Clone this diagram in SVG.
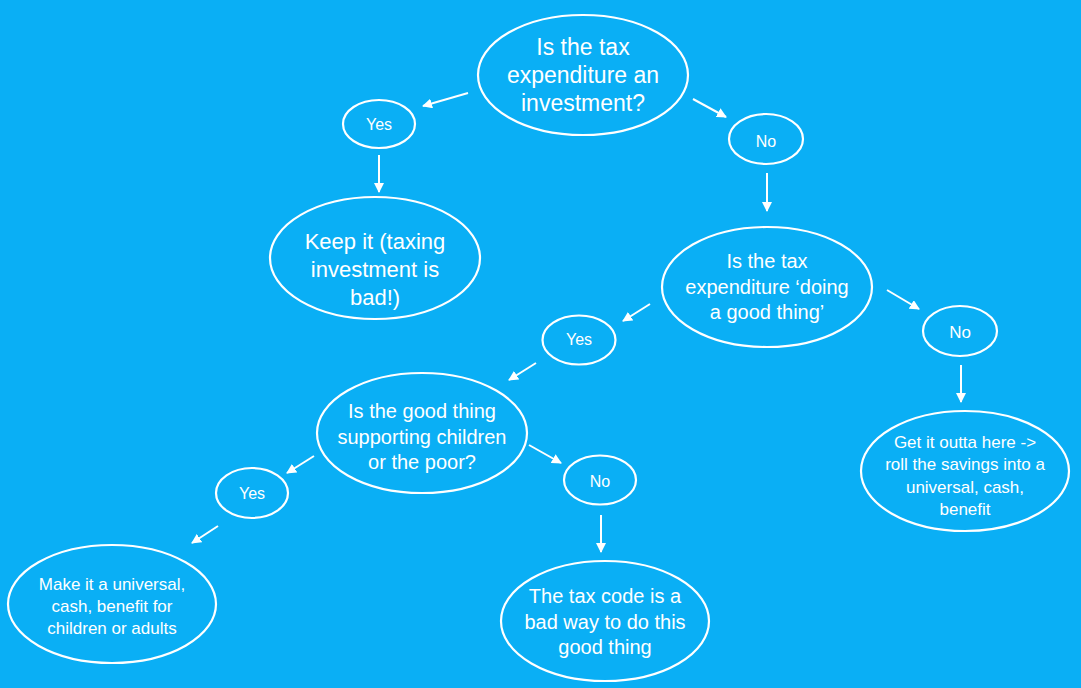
<svg xmlns="http://www.w3.org/2000/svg" width="1081" height="688" viewBox="0 0 1081 688">
<style>
.n{fill:none;stroke:#fff;stroke-width:2.2}
.t{fill:#fff;font-family:"Liberation Sans",Arial,sans-serif;text-anchor:middle;dominant-baseline:central}
.s{font-size:16px}
.c{stroke:#fff;stroke-width:2;fill:none;marker-end:url(#ah)}
</style>
<defs>
<marker id="ah" viewBox="0 0 10 10" refX="9" refY="5" markerWidth="5" markerHeight="5" orient="auto" markerUnits="strokeWidth">
<path d="M0,0 L10,5 L0,10 z" fill="#fff"/>
</marker>
</defs>
<rect width="1081" height="688" fill="#0AAFF5"/>
<g id="connectors">
<line class="c" x1="468" y1="93" x2="423" y2="106"/>
<line class="c" x1="693" y1="99" x2="726" y2="117"/>
<line class="c" x1="379" y1="155" x2="379" y2="192"/>
<line class="c" x1="767" y1="173" x2="767" y2="211"/>
<line class="c" x1="650" y1="304" x2="623" y2="321"/>
<line class="c" x1="887" y1="290" x2="919" y2="309"/>
<line class="c" x1="961" y1="365" x2="961" y2="402"/>
<line class="c" x1="536" y1="363" x2="509" y2="380"/>
<line class="c" x1="314" y1="456" x2="287" y2="473"/>
<line class="c" x1="529" y1="445" x2="561" y2="463"/>
<line class="c" x1="218" y1="526" x2="192" y2="543"/>
<line class="c" x1="601" y1="515" x2="601" y2="552"/>
</g>
<g id="q1">
<ellipse class="n" cx="583" cy="75" rx="105" ry="60"/>
<text class="t" font-size="23"><tspan x="583" y="47">Is the tax</tspan><tspan x="583" y="75">expenditure an</tspan><tspan x="583" y="103">investment?</tspan></text>
</g>
<g id="yes1">
<ellipse class="n" cx="379" cy="124" rx="36" ry="24"/>
<text class="t s" x="379" y="124">Yes</text>
</g>
<g id="no1">
<ellipse class="n" cx="766" cy="139" rx="37" ry="25"/>
<text class="t s" x="766" y="141">No</text>
</g>
<g id="keep">
<ellipse class="n" cx="375" cy="258" rx="105" ry="61"/>
<text class="t" font-size="22"><tspan x="375" y="241">Keep it (taxing</tspan><tspan x="375" y="269">investment is</tspan><tspan x="375" y="297">bad!)</tspan></text>
</g>
<g id="q2">
<ellipse class="n" cx="767" cy="287" rx="105" ry="60"/>
<text class="t" font-size="20"><tspan x="767" y="261">Is the tax</tspan><tspan x="767" y="287">expenditure ‘doing</tspan><tspan x="767" y="312">a good thing’</tspan></text>
</g>
<g id="no2">
<ellipse class="n" cx="960" cy="331" rx="37" ry="25"/>
<text class="t" font-size="17" x="960" y="332">No</text>
</g>
<g id="getit">
<ellipse class="n" cx="965" cy="471" rx="104" ry="60"/>
<text class="t" font-size="17"><tspan x="965" y="442">Get it outta here -&gt;</tspan><tspan x="965" y="464">roll the savings into a</tspan><tspan x="965" y="487">universal, cash,</tspan><tspan x="965" y="509">benefit</tspan></text>
</g>
<g id="yes2">
<ellipse class="n" cx="579" cy="340" rx="36.5" ry="24.5"/>
<text class="t s" x="579" y="339">Yes</text>
</g>
<g id="q3">
<ellipse class="n" cx="422" cy="433" rx="105" ry="60"/>
<text class="t" font-size="20"><tspan x="422" y="411">Is the good thing</tspan><tspan x="422" y="437">supporting children</tspan><tspan x="422" y="462">or the poor?</tspan></text>
</g>
<g id="yes3">
<ellipse class="n" cx="252" cy="493" rx="36" ry="25"/>
<text class="t s" x="252" y="493">Yes</text>
</g>
<g id="no3">
<ellipse class="n" cx="600" cy="480" rx="36" ry="24.5"/>
<text class="t s" x="600" y="481">No</text>
</g>
<g id="makeit">
<ellipse class="n" cx="112" cy="604" rx="104" ry="59"/>
<text class="t" font-size="17"><tspan x="112" y="584">Make it a universal,</tspan><tspan x="112" y="606">cash, benefit for</tspan><tspan x="112" y="628">children or adults</tspan></text>
</g>
<g id="taxcode">
<ellipse class="n" cx="605" cy="621" rx="104" ry="60"/>
<text class="t" font-size="20"><tspan x="605" y="596">The tax code is a</tspan><tspan x="605" y="622">bad way to do this</tspan><tspan x="605" y="647">good thing</tspan></text>
</g>
</svg>
